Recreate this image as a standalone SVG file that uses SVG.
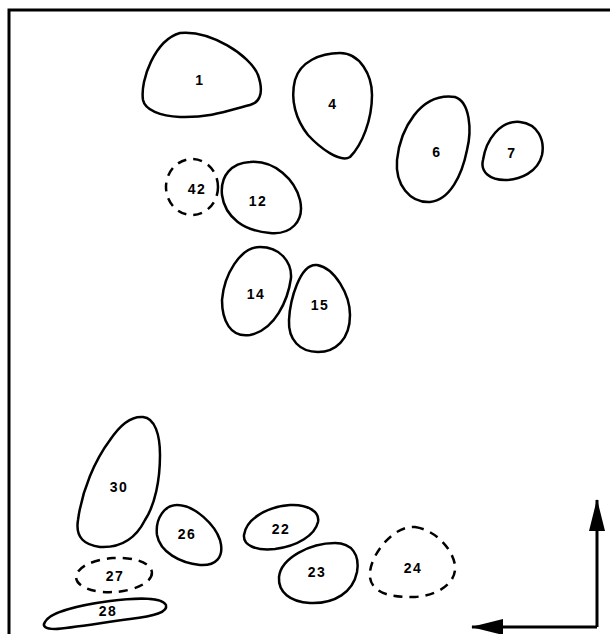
<svg xmlns="http://www.w3.org/2000/svg" width="610" height="634" viewBox="0 0 610 634">
<style>
.s{fill:none;stroke:#000;stroke-width:2.5;stroke-linejoin:round}
.d{fill:none;stroke:#000;stroke-width:2.5;stroke-dasharray:9 7}
.t{font-family:"Liberation Sans",Arial,sans-serif;font-weight:bold;font-size:14px;letter-spacing:1.5px;text-anchor:middle;fill:#000}
.ax{stroke:#000;stroke-width:3;fill:none}
</style>
<defs>
<marker id="ah" markerWidth="32" markerHeight="16" refX="31" refY="8" orient="auto" markerUnits="userSpaceOnUse">
<path d="M0,0 L32,8 L0,16 Z" fill="#000"/>
</marker>
</defs>
<rect width="610" height="634" fill="#fff"/>
<path d="M9,634 V10 H610" class="ax"/>
<g id="n1"><path class="s" d="M180,33 C210,30 250,55 258,75 C265,95 258,103 250,105 C230,110 210,118 180,117 C160,116 145,110 143,100 C140,80 155,40 180,33 Z"/><text class="t" x="200" y="85">1</text></g>
<g id="n4"><path class="s" d="M340,53 C360,53 372,75 372,95 C372,120 362,145 350,157 C340,163 320,148 308,135 C296,120 290,100 295,80 C300,62 320,53 340,53 Z"/><text class="t" x="333" y="109">4</text></g>
<g id="n6"><path class="s" d="M455,97 C470,102 472,130 467,150 C462,175 450,200 430,202 C410,203 395,185 397,160 C400,130 420,92 455,97 Z"/><text class="t" x="437" y="157">6</text></g>
<g id="n7"><path class="s" d="M520,122 C538,124 545,140 542,155 C538,172 520,180 505,180 C490,180 480,172 483,160 C486,140 500,120 520,122 Z"/><text class="t" x="512" y="158">7</text></g>
<g id="n42"><ellipse class="d" cx="192" cy="187" rx="26" ry="28"/><text class="t" x="197" y="194">42</text></g>
<g id="n12"><path class="s" d="M250,162 C275,160 295,180 300,200 C305,222 290,235 270,233 C245,231 225,218 222,195 C220,175 232,163 250,162 Z"/><text class="t" x="258" y="206">12</text></g>
<g id="n14"><path class="s" d="M260,247 C280,247 292,262 291,278 C288,300 275,330 250,335 C230,338 222,320 222,300 C224,275 240,247 260,247 Z"/><text class="t" x="256" y="299">14</text></g>
<g id="n15"><path class="s" d="M317,265 C335,268 350,295 350,315 C350,340 335,352 318,352 C300,352 288,340 289,320 C290,300 300,263 317,265 Z"/><text class="t" x="320" y="310">15</text></g>
<g id="n30"><path class="s" d="M143,417 C155,418 160,435 160,455 C160,480 155,505 145,520 C135,540 120,548 100,547 C85,545 75,538 78,520 C82,490 95,460 110,440 C120,425 132,416 143,417 Z"/><text class="t" x="119" y="492">30</text></g>
<g id="n26"><path class="s" d="M177,505 C195,505 215,525 220,540 C225,558 215,566 200,565 C180,563 160,552 157,535 C155,518 165,505 177,505 Z"/><text class="t" x="187" y="539">26</text></g>
<g id="n27"><ellipse class="d" cx="114" cy="575" rx="38" ry="17" transform="rotate(-4 114 575)"/><text class="t" x="115" y="581">27</text></g>
<g id="n28"><path class="s" d="M45,622 C50,612 80,605 110,601 C140,597 162,598 166,605 C168,612 155,616 130,619 C100,623 70,628 55,629 C45,629 42,626 45,622 Z"/><text class="t" x="108" y="616">28</text></g>
<g id="n22"><path class="s" d="M290,505 C308,504 320,512 318,522 C315,535 298,546 275,549 C255,551 243,545 244,535 C246,520 265,507 290,505 Z"/><text class="t" x="281" y="534">22</text></g>
<g id="n23"><path class="s" d="M335,543 C352,543 360,555 357,572 C353,592 335,604 310,603 C290,602 278,592 279,577 C281,558 310,543 335,543 Z"/><text class="t" x="317" y="577">23</text></g>
<g id="n24"><path class="d" d="M415,527 C435,530 452,548 455,565 C457,582 440,595 415,597 C385,598 368,590 370,572 C372,552 395,525 415,527 Z"/><text class="t" x="413" y="573">24</text></g>
<g id="connectors">
<path class="ax" d="M597,627 V500" marker-end="url(#ah)"/>
<path class="ax" d="M597,627 H472" marker-end="url(#ah)"/>
</g>
</svg>
